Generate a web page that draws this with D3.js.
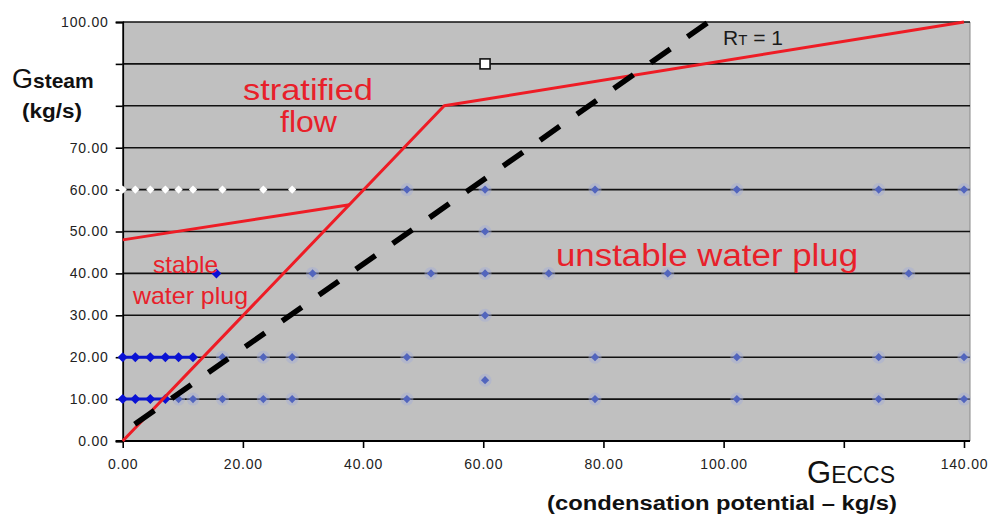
<!DOCTYPE html>
<html><head><meta charset="utf-8">
<script src="https://cdn.jsdelivr.net/npm/d3@7"></script>
<style>
html,body{margin:0;padding:0;background:#fff;}
svg{display:block;}
text{font-family:"Liberation Sans",Arial,sans-serif;}
</style></head>
<body>
<svg id="chart" width="992" height="522"></svg>
<script>
// ---- data ----
const xTicks = [0, 20, 40, 60, 80, 100, 120, 140];
const xTickLabels = ["0.00", "20.00", "40.00", "60.00", "80.00", "100.00", "", "140.00"];
const yTicks = [0, 10, 20, 30, 40, 50, 60, 70, 80, 90, 100];
const yTickLabels = ["0.00", "10.00", "20.00", "30.00", "40.00", "50.00", "60.00", "70.00", "", "", "100.00"];

// stable water plug observations (dark blue)
const stableEccs  = [0, 2.1, 4.6, 7.1, 9.3, 11.7, 0, 2.1, 4.6, 7.1, 15.6];
const stableSteam = [20, 20, 20, 20, 20, 20, 10, 10, 10, 10, 40];

// unstable water plug observations (light blue)
const unstableEccs  = [47.3, 60.3, 78.6, 102.2, 125.8, 140,
                       60.3,
                       31.6, 51.3, 60.3, 70.9, 90.7, 130.8,
                       60.3,
                       16.6, 23.4, 28.2, 47.3, 78.6, 102.2, 125.8, 140,
                       60.3,
                       9.3, 11.7, 16.6, 23.4, 28.2, 47.3, 78.6, 102.2, 125.8, 140];
const unstableSteam = [60, 60, 60, 60, 60, 60,
                       50,
                       40, 40, 40, 40, 40, 40,
                       30,
                       20, 20, 20, 20, 20, 20, 20, 20,
                       14.5,
                       10, 10, 10, 10, 10, 10, 10, 10, 10, 10];

// stratified flow observations (white)
const stratEccs  = [0, 2.1, 4.6, 7.1, 9.3, 11.7, 16.6, 23.4, 28.2];
const stratSteam = [60, 60, 60, 60, 60, 60, 60, 60, 60];

// single open square
const squareEccs = [60.3];
const squareSteam = [90];

// regime boundaries
const boundaryAEccs = [0, 53.5, 140];
const boundaryASteam = [0, 80, 100];
const boundaryBEccs = [0, 37.75];
const boundaryBSteam = [48, 56.4];
// R_T = 1 line
const rtEccs = [2, 99];
const rtSteam = [4, 101.5];

// ---- drawing ----
const svg = d3.select("#chart");
const pLeft = 122.7, pRight = 964, pTop = 22, pBottom = 441, plotRight = 970;
const x = d3.scaleLinear().domain([0, 140]).range([pLeft, pRight]);
const y = d3.scaleLinear().domain([0, 100]).range([pBottom, pTop]);

// plot background
svg.append("rect").attr("x", pLeft).attr("y", pTop)
  .attr("width", plotRight - pLeft).attr("height", pBottom - pTop)
  .attr("fill", "#c0c0c0");
// right border
svg.append("line").attr("x1", plotRight).attr("x2", plotRight).attr("y1", pTop).attr("y2", pBottom)
  .attr("stroke", "#8a8a8a").attr("stroke-width", 1);

// gridlines
svg.append("g").selectAll("line").data(yTicks.filter(d => d > 0)).join("line")
  .attr("x1", pLeft).attr("x2", plotRight)
  .attr("y1", d => y(d)).attr("y2", d => y(d))
  .attr("stroke", "#111").attr("stroke-width", 1.6);

// axes
const xAxis = d3.axisBottom(x).tickValues(xTicks)
  .tickFormat((d, i) => xTickLabels[i]).tickSize(7).tickPadding(11);
const gx = svg.append("g").attr("transform", `translate(0,${pBottom})`).call(xAxis);
gx.select(".domain").remove();
gx.append("line").attr("x1", pLeft - 7).attr("x2", plotRight).attr("y1", 0).attr("y2", 0)
  .attr("stroke", "#000").attr("stroke-width", 1.8);

const yAxis = d3.axisLeft(y).tickValues(yTicks)
  .tickFormat((d, i) => yTickLabels[i]).tickSize(7).tickPadding(7);
const gy = svg.append("g").attr("transform", `translate(${pLeft},0)`).call(yAxis);
gy.select(".domain").attr("stroke-width", 1.8);
[gx, gy].forEach(g => {
  g.selectAll(".tick line").attr("stroke", "#000").attr("stroke-width", 1.6);
  g.selectAll(".tick text").attr("font-size", 14).attr("fill", "#222")
    .attr("letter-spacing", "0.8px").attr("font-family", "Liberation Sans, Arial, sans-serif");
});

// connecting line for stable observations along each row
const stablePts = stableEccs.map((e, i) => ({e, s: stableSteam[i]}));
const rows = d3.group(stablePts.filter(p => p.s === 10 || p.s === 20), p => p.s);
const lineGen = d3.line().x(p => x(p.e)).y(p => y(p.s));
for (const [, pts] of rows) {
  svg.append("path").attr("d", lineGen(pts)).attr("fill", "none")
    .attr("stroke", "#0a14cc").attr("stroke-width", 3);
}

const diamond = (size) => d3.symbol(d3.symbolSquare, size);

// unstable points (light blue with soft halo)
const unstablePts = unstableEccs.map((e, i) => ({e, s: unstableSteam[i]}));
svg.append("g").selectAll("circle").data(unstablePts).join("circle")
  .attr("cx", p => x(p.e)).attr("cy", p => y(p.s)).attr("r", 6.5)
  .attr("fill", "#a3add8").attr("opacity", 0.45);
svg.append("g").selectAll("path").data(unstablePts).join("path")
  .attr("d", diamond(34)())
  .attr("transform", p => `translate(${x(p.e)},${y(p.s)}) rotate(45)`)
  .attr("fill", "#5265bd");

// stable points (dark blue)
svg.append("g").selectAll("path").data(stablePts).join("path")
  .attr("d", diamond(50)())
  .attr("transform", p => `translate(${x(p.e)},${y(p.s)}) rotate(45)`)
  .attr("fill", "#0a12d4");

// stratified points (white)
const stratPts = stratEccs.map((e, i) => ({e, s: stratSteam[i]}));
svg.append("g").selectAll("path").data(stratPts).join("path")
  .attr("d", diamond(34)())
  .attr("transform", p => `translate(${x(p.e)},${y(p.s)}) rotate(45)`)
  .attr("fill", "#ffffff");

// open square
svg.append("g").selectAll("rect").data(squareEccs.map((e, i) => ({e, s: squareSteam[i]}))).join("rect")
  .attr("x", p => x(p.e) - 5).attr("y", p => y(p.s) - 5)
  .attr("width", 10).attr("height", 10)
  .attr("fill", "#fff").attr("stroke", "#111").attr("stroke-width", 1.6);

// boundaries
const line2 = (ex, sy) => d3.line().x((d, i) => x(ex[i])).y((d, i) => y(sy[i]))(ex);
svg.append("path").attr("d", line2(boundaryAEccs, boundaryASteam))
  .attr("fill", "none").attr("stroke", "#ee1c25").attr("stroke-width", 3).attr("stroke-linejoin", "round");
svg.append("path").attr("d", line2(boundaryBEccs, boundaryBSteam))
  .attr("fill", "none").attr("stroke", "#ee1c25").attr("stroke-width", 3);
svg.append("path").attr("d", line2(rtEccs, rtSteam))
  .attr("fill", "none").attr("stroke", "#000").attr("stroke-width", 5.5)
  .attr("stroke-dasharray", "24 21");

// region labels
const red = "#e8202a";
svg.append("text").attr("x", 243).attr("y", 100).attr("font-size", 30).attr("fill", red)
  .attr("textLength", 130).attr("lengthAdjust", "spacingAndGlyphs").text("stratified");
svg.append("text").attr("x", 280).attr("y", 132).attr("font-size", 30).attr("fill", red)
  .attr("textLength", 57).attr("lengthAdjust", "spacingAndGlyphs").text("flow");
svg.append("text").attr("x", 556).attr("y", 266).attr("font-size", 31).attr("fill", red)
  .attr("textLength", 302).attr("lengthAdjust", "spacingAndGlyphs").text("unstable water plug");
svg.append("text").attr("x", 153).attr("y", 273).attr("font-size", 24).attr("fill", red)
  .attr("textLength", 65).attr("lengthAdjust", "spacingAndGlyphs").text("stable");
svg.append("text").attr("x", 133).attr("y", 304).attr("font-size", 24).attr("fill", red)
  .attr("textLength", 115).attr("lengthAdjust", "spacingAndGlyphs").text("water plug");

// R_T = 1 label
const rt = svg.append("text").attr("x", 723).attr("y", 45).attr("fill", "#1a1a1a").attr("font-size", 21);
rt.append("tspan").text("R");
rt.append("tspan").attr("font-size", 15).text("T");
rt.append("tspan").text(" = 1");

// axis titles
const yt = svg.append("text").attr("x", 12).attr("y", 88).attr("fill", "#111");
yt.append("tspan").attr("font-size", 27).text("G");
yt.append("tspan").attr("font-size", 21).attr("font-weight", "bold").text("steam");
svg.append("text").attr("x", 22).attr("y", 118).attr("font-size", 20).attr("font-weight", "bold")
  .attr("fill", "#111").attr("textLength", 60).attr("lengthAdjust", "spacingAndGlyphs").text("(kg/s)");

const xt = svg.append("text").attr("x", 807).attr("y", 483).attr("fill", "#111");
xt.append("tspan").attr("font-size", 31).text("G");
xt.append("tspan").attr("font-size", 23).text("ECCS");
svg.append("text").attr("x", 547).attr("y", 510).attr("font-size", 20).attr("font-weight", "bold")
  .attr("fill", "#111").attr("textLength", 350).attr("lengthAdjust", "spacingAndGlyphs")
  .text("(condensation potential – kg/s)");
</script>
</body></html>
